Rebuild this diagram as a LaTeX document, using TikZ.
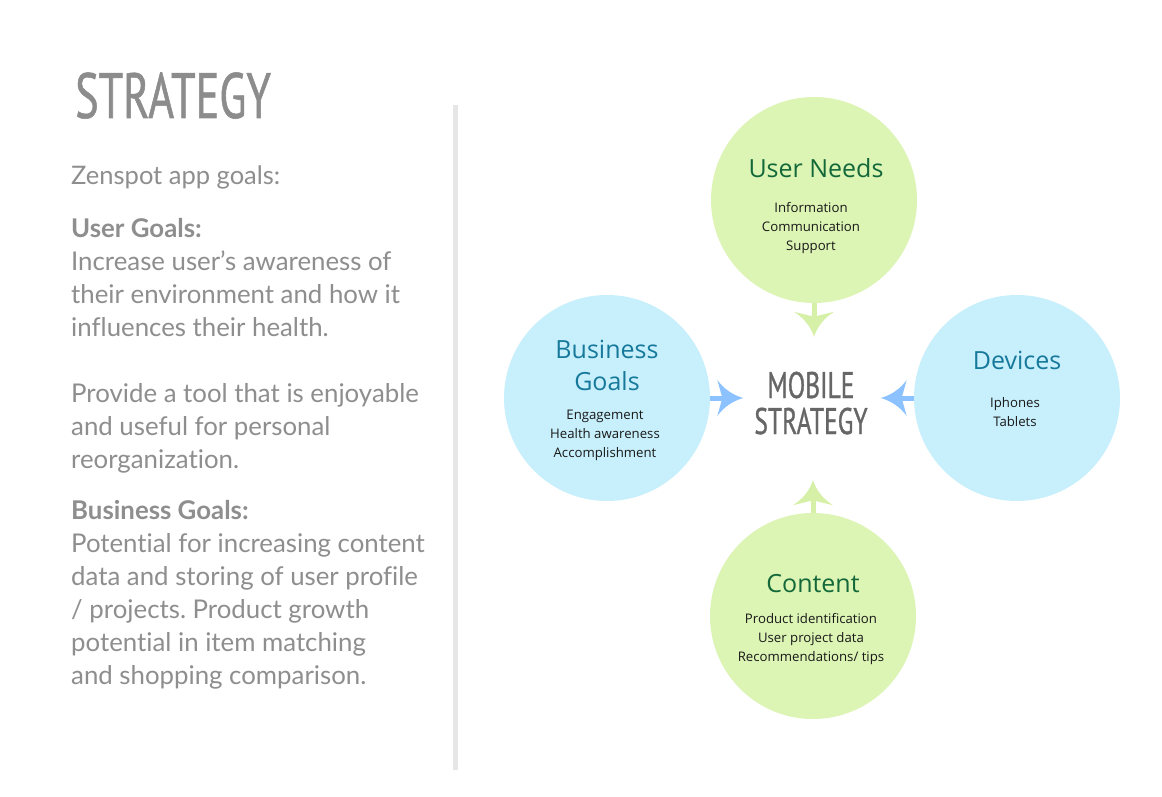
\documentclass[tikz,border=0pt]{standalone}
\usepackage{fontspec}
\setmainfont{Lato}[Ligatures={TeX,NoCommon}]
\newfontfamily\condfont[FakeStretch=0.69,FakeBold=0.8]{PT Sans}
\newfontfamily\circfont{Open Sans}
\usetikzlibrary{arrows.meta}
\frenchspacing
\definecolor{gcirc}{HTML}{DCF4B4}
\definecolor{bcirc}{HTML}{C8F0FC}
\definecolor{garr}{HTML}{D6F0A8}
\definecolor{barr}{HTML}{8CC2FF}
\definecolor{gtitle}{HTML}{13683A}
\definecolor{btitle}{HTML}{16799B}
\definecolor{bodygray}{HTML}{8E8E8E}
\definecolor{titlegray}{HTML}{8C8C8C}
\definecolor{msgray}{HTML}{666666}
\definecolor{divgray}{HTML}{E6E6E6}
\pgfdeclarearrow{
  name = Notched,
  parameters = {\the\pgfarrowlength,\the\pgfarrowwidth},
  setup code = {
    \pgfarrowssettipend{0pt}
    \pgfarrowssetlineend{-0.7\pgfarrowlength}
    \pgfarrowssetvisualbackend{-\pgfarrowlength}
    \pgfarrowssetbackend{-\pgfarrowlength}
    \pgfarrowshullpoint{0pt}{0pt}
    \pgfarrowsupperhullpoint{-\pgfarrowlength}{.5\pgfarrowwidth}
    \pgfarrowssavethe\pgfarrowlength
    \pgfarrowssavethe\pgfarrowwidth
  },
  drawing code = {
    \pgfpathmoveto{\pgfqpoint{0pt}{0pt}}
    \pgfpathcurveto{\pgfqpoint{-.4\pgfarrowlength}{.08\pgfarrowwidth}}{\pgfqpoint{-.75\pgfarrowlength}{.25\pgfarrowwidth}}{\pgfqpoint{-\pgfarrowlength}{.5\pgfarrowwidth}}
    \pgfpathcurveto{\pgfqpoint{-.9\pgfarrowlength}{.25\pgfarrowwidth}}{\pgfqpoint{-.85\pgfarrowlength}{.1\pgfarrowwidth}}{\pgfqpoint{-.8\pgfarrowlength}{0pt}}
    \pgfpathcurveto{\pgfqpoint{-.85\pgfarrowlength}{-.1\pgfarrowwidth}}{\pgfqpoint{-.9\pgfarrowlength}{-.25\pgfarrowwidth}}{\pgfqpoint{-\pgfarrowlength}{-.5\pgfarrowwidth}}
    \pgfpathcurveto{\pgfqpoint{-.75\pgfarrowlength}{-.25\pgfarrowwidth}}{\pgfqpoint{-.4\pgfarrowlength}{-.08\pgfarrowwidth}}{\pgfqpoint{0pt}{0pt}}
    \pgfpathclose
    \pgfusepathqfill
  },
  defaults = {length=25pt, width=38pt}
}
\tikzset{
  circ/.style={circle, minimum size=206pt, inner sep=0pt, draw=none},
  hub/.style={rectangle, minimum width=137pt, minimum height=143pt, inner sep=0pt, draw=none},
  garrow/.style={draw=garr, line width=5pt, -{Notched[length=25pt,width=40pt]}},
  barrow/.style={draw=barr, line width=5pt, -{Notched[length=26pt,width=36pt]}},
  ctitle/.style={anchor=base, inner sep=0pt, font=\circfont\fontsize{25}{32}\selectfont, align=center},
  citems/.style={anchor=base, inner sep=0pt, font=\circfont\fontsize{13.2}{19}\selectfont, text=black!90, align=center},
  body/.style={anchor=base west, inner sep=0pt, align=left, text=bodygray, font=\fontsize{25.8}{33}\selectfont},
  divider/.style={draw=divgray, line width=5pt}
}
\begin{document}
\begin{tikzpicture}[x=1pt,y=-1pt]
\useasboundingbox[fill=white] (0,0) rectangle (1162,797);
% left column (multi-line nodes are placed by the baseline of their last line)
\node[anchor=base west, inner sep=0pt, text=titlegray, font=\condfont\fontsize{64}{64}\selectfont] (title) at (75,118) {STRATEGY};
\node[body, font=\fontsize{25.5}{33}\selectfont] (intro) at (71,185) {Zenspot app goals:};
\node[body] (ugoals) at (71,336) {\textbf{User Goals:}\\Increase user’s awareness of\\their environment and how it\\influences their health.};
\node[body] (provide) at (71,468) {Provide a tool that is enjoyable\\and useful for personal\\reorganization.};
\node[body] (bgoals) at (71,684) {\textbf{Business Goals:}\\Potential for increasing content\\data and storing of user profile\\/ projects. Product growth\\potential in item matching\\and shopping comparison.};
\draw[divider] (455.5,105) -- (455.5,770);
% circles
\node[circ, fill=gcirc] (un) at (814,200) {};
\node[circ, fill=bcirc] (bg) at (607,398) {};
\node[circ, fill=bcirc] (dv) at (1017,398) {};
\node[circ, fill=gcirc] (ct) at (813,616) {};
\node[ctitle, text=gtitle] (unt) at (816,178) {User Needs};
\node[citems] (uni) at (811,250) {Information\\Communication\\Support};
\node[ctitle, text=btitle] (bgt) at (607,390) {Business\\Goals};
\node[citems] (bgi) at (605,457) {Engagement\\Health awareness\\Accomplishment};
\node[ctitle, text=btitle] (dvt) at (1017,369) {Devices};
\node[citems] (dvi) at (1015,426) {Iphones\\Tablets};
\node[ctitle, text=gtitle] (ctt) at (813,592) {Content};
\node[citems] (cti) at (811,661) {Product identification\\User project data\\Recommendations/ tips};
% centre
\node[hub] (ms) at (812,408.5) {};
\node[anchor=base, inner sep=0pt, align=center, text=msgray, font=\condfont\fontsize{37}{36}\selectfont] (mst) at (811,434) {MOBILE\\STRATEGY};
% arrows
\draw[garrow] (un.south) -- (un.south |- ms.north);
\draw[garrow] (ct.north) -- (ct.north |- ms.south);
\draw[barrow] (bg.east) -- (bg.east -| ms.west);
\draw[barrow] (dv.west) -- (dv.west -| ms.east);
\end{tikzpicture}
\end{document}
